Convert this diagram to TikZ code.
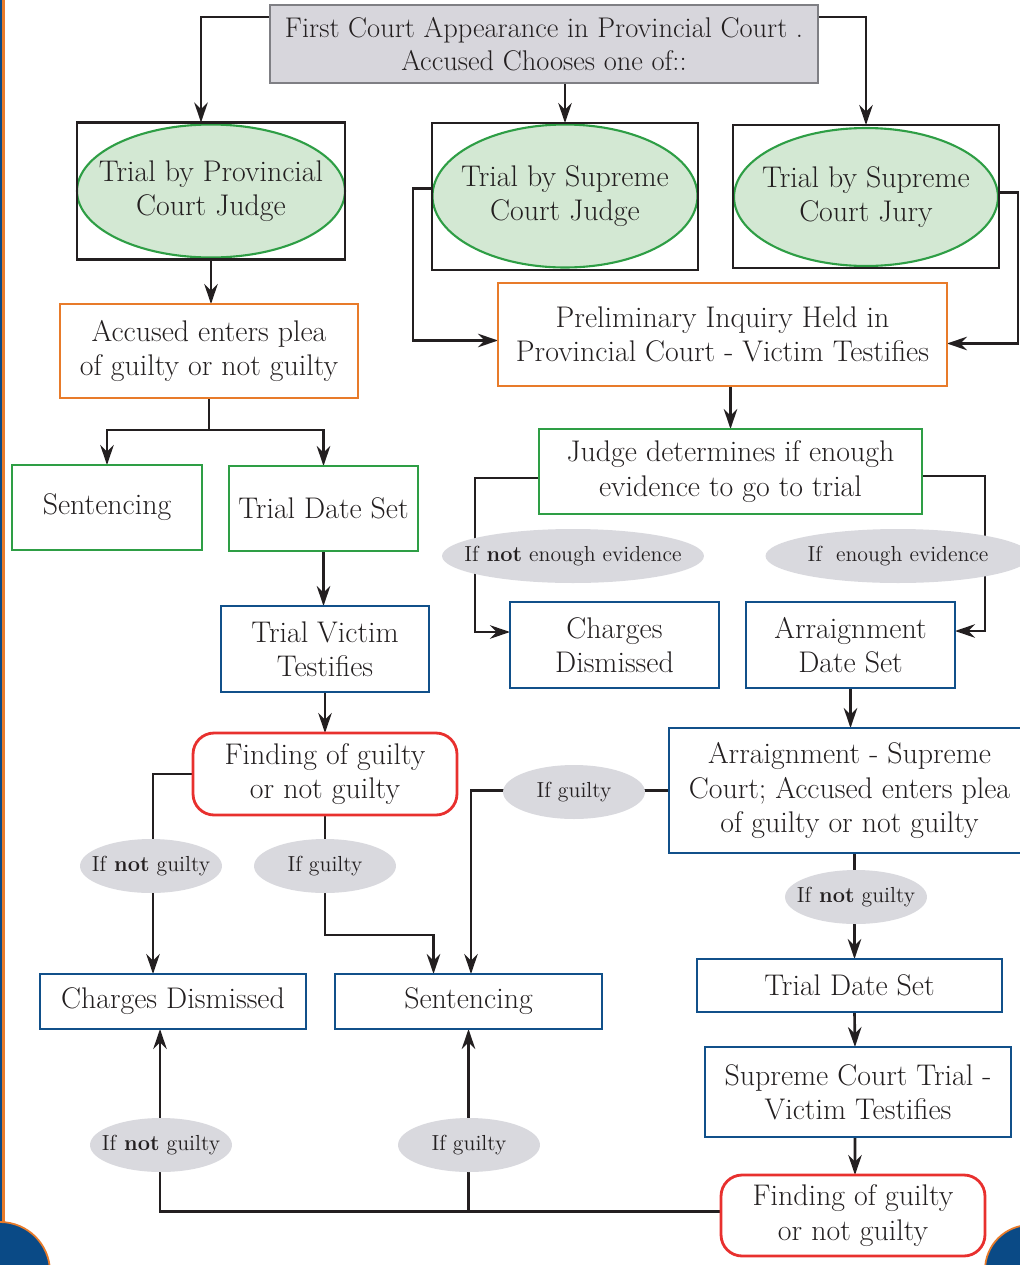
\documentclass[tikz,border=0pt]{standalone}
\usepackage{fontspec}
\usepackage{xcolor}
\definecolor{ink}{HTML}{231F20}
\definecolor{boxgray}{HTML}{D7D6DC}
\definecolor{framegray}{HTML}{7F7F84}
\definecolor{ellfill}{HTML}{D3E8D3}
\definecolor{boxgreen}{HTML}{2E9E45}
\definecolor{boxorange}{HTML}{E87B2A}
\definecolor{boxblue}{HTML}{11508A}
\definecolor{boxred}{HTML}{E8302E}
\definecolor{labgray}{HTML}{D9D9DE}
\definecolor{edgeblue}{HTML}{0A4A86}
\usepackage{tikz}
\usetikzlibrary{positioning}
\usetikzlibrary{arrows.meta,shapes}
\usetikzlibrary{backgrounds}
\begin{document}
\begin{tikzpicture}[x=0.02cm,y=-0.02cm,
    every node/.style={inner sep=0,outer sep=0,align=center,text=ink,font=\fontsize{17}{19.5}\selectfont},
    >={Stealth[length=0.4cm,width=0.27cm]},
    link/.style={->,line width=1.5pt,draw=ink},
    firstbox/.style={draw=framegray,fill=boxgray,line width=1.2pt,font=\fontsize{16.2}{18.5}\selectfont},
    framebox/.style={draw=ink,line width=1.3pt},
    choice/.style={ellipse,draw=boxgreen,fill=ellfill,line width=1.2pt,inner xsep=-0.8cm},
    orangebox/.style={draw=boxorange,line width=1.3pt},
    greenbox/.style={draw=boxgreen,line width=1.3pt},
    bluebox/.style={draw=boxblue,line width=1.6pt},
    redbox/.style={draw=boxred,rounded corners=12pt,line width=1.6pt},
    cond/.style={ellipse,fill=labgray,inner xsep=-0.6cm,font=\fontsize{12.4}{14}\selectfont,minimum width=2.84cm,minimum height=1.08cm}]
\useasboundingbox (0,0) rectangle (1020,1265);
\begin{scope}
    \clip (0,0) rectangle (1020,1265);
    \fill[edgeblue] (0,0) rectangle (2,1265);
    \fill[boxorange] (2,0) rectangle (4.5,1265);
    \filldraw[fill=edgeblue,draw=boxorange,line width=1pt] (0,1272) circle[radius=1cm];
    \filldraw[fill=edgeblue,draw=boxorange,line width=1pt] (1030,1270) circle[radius=0.9cm];
\end{scope}

\node[firstbox,minimum width=10.96cm,minimum height=1.56cm] (first) at (544,44) {First Court Appearance in Provincial Court .\\Accused Chooses one of::};

\node[choice,minimum width=5.36cm,minimum height=2.66cm] (pje) at (211,191) {Trial by Provincial\\Court Judge};
\node[framebox,minimum width=5.36cm,minimum height=2.74cm] (pj) at (211,191) {};
\node[choice,minimum width=5.3cm,minimum height=2.86cm] (sje) at (565,196) {Trial by Supreme\\Court Judge};
\node[framebox,minimum width=5.32cm,minimum height=2.94cm] (sj) at (565,196.5) {};
\node[choice,minimum width=5.28cm,minimum height=2.76cm] (jye) at (866,197) {Trial by Supreme\\Court Jury};
\node[framebox,minimum width=5.32cm,minimum height=2.86cm] (jy) at (866,196.5) {};

\node[orangebox,minimum width=5.96cm,minimum height=1.88cm] (plea) at (209,351) {Accused enters plea\\of guilty or not guilty};
\node[greenbox,minimum width=3.8cm,minimum height=1.7cm] (sen1) at (107,507.5) {Sentencing};
\node[greenbox,minimum width=3.78cm,minimum height=1.7cm] (tds1) at (323.5,508.5) {Trial Date Set};
\node[bluebox,minimum width=4.16cm,minimum height=1.72cm] (tvt) at (325,649) {Trial Victim\\Testifies};
\node[redbox,minimum width=5.28cm,minimum height=1.64cm] (fnd1) at (325,774) {Finding of guilty\\or not guilty};
\node[bluebox,minimum width=5.32cm,minimum height=1.1cm] (cd1) at (173,1001.5) {Charges Dismissed};
\node[bluebox,minimum width=5.34cm,minimum height=1.1cm] (sen2) at (468.5,1001.5) {Sentencing};

\node[orangebox,minimum width=8.98cm,minimum height=2.06cm] (pi) at (722.5,334.5) {Preliminary Inquiry Held in\\Provincial Court - Victim Testifies};
\node[greenbox,minimum width=7.66cm,minimum height=1.7cm] (jd) at (730.5,471.5) {Judge determines if enough\\evidence to go to trial};
\node[bluebox,minimum width=4.18cm,minimum height=1.72cm] (cd2) at (614.5,645) {Charges\\Dismissed};
\node[bluebox,minimum width=4.18cm,minimum height=1.72cm] (ads) at (850.5,645) {Arraignment\\Date Set};
\node[bluebox,minimum width=7.22cm,minimum height=2.5cm] (arr) at (849.5,790.5) {Arraignment - Supreme\\Court; Accused enters plea\\of guilty or not guilty};
\node[bluebox,minimum width=6.1cm,minimum height=1.06cm] (tds2) at (849.5,985.5) {Trial Date Set};
\node[bluebox,minimum width=6.12cm,minimum height=1.8cm] (sct) at (858,1092) {Supreme Court Trial -\\Victim Testifies};
\node[redbox,minimum width=5.28cm,minimum height=1.62cm] (fnd2) at (853,1215.5) {Finding of guilty\\or not guilty};

\node[cond] (c1) at (151,866) {If \textbf{not} guilty};
\node[cond] (c2) at (325,866) {If guilty};
\node[cond,minimum width=5.24cm] (c3) at (573,556) {If \textbf{not} enough evidence};
\node[cond,minimum width=5.3cm] (c4) at (898,556) {If\ \ enough evidence};
\node[cond] (c5) at (574,792) {If guilty};
\node[cond] (c6) at (856,897) {If \textbf{not} guilty};
\node[cond] (c7) at (161,1145) {If \textbf{not} guilty};
\node[cond] (c8) at (469,1145) {If guilty};

\begin{scope}[on background layer]
    \draw[link] ([yshift=-0.24cm]first.north west) -| ([xshift=-0.2cm]pj.north);
    \draw[link] (sj.north |- first.south) -- (sj.north);
    \draw[link] ([yshift=-0.24cm]first.north east) -| (jy.north);
    \draw[link] (pj.south) -- (pj.south |- plea.north);
    \draw[link] (plea.south) -- ++(0,32) -| (sen1.north);
    \draw[link] (plea.south) -- ++(0,32) -| (tds1.north);
    \draw[link] (tds1.south) -- (tds1.south |- tvt.north);
    \draw[link] (tvt) -- (fnd1);
    \draw[link] (fnd1.west) -| ([xshift=-0.4cm]cd1.north);
    \draw[link] (fnd1.south) -- ++(0,120) -| ([xshift=-0.7cm]sen2.north);
    \draw[link] ([yshift=0.16cm]sj.west) -- ++(-19,0) |- ([yshift=-0.12cm]pi.west);
    \draw[link] ([yshift=0.08cm]jy.east) -- ++(19,0) |- ([yshift=-0.18cm]pi.east);
    \draw[link] (jd.north |- pi.south) -- (jd.north);
    \draw[link] ([yshift=-0.13cm]jd.west) -- ++(-64,0) |- ([yshift=0.26cm]cd2.west);
    \draw[link] ([yshift=-0.09cm]jd.east) -- ++(63,0) |- ([yshift=0.28cm]ads.east);
    \draw[link] (ads.south) -- (ads.south |- arr.north);
    \draw[link] (arr.west) -| ([xshift=0.05cm]sen2.north);
    \draw[link] ([xshift=0.1cm]arr.south) -- ([xshift=0.1cm]tds2.north);
    \draw[link] ([xshift=0.1cm]tds2.south) -- ([xshift=-0.06cm]sct.north);
    \draw[link] ([xshift=-0.06cm]sct.south) -- ([xshift=0.04cm]fnd2.north);
    \draw[link] ([yshift=0.08cm]fnd2.west) -| ([xshift=-0.26cm]cd1.south);
    \draw[link] ([yshift=0.08cm]fnd2.west) -| (sen2.south);
\end{scope}
\end{tikzpicture}
\end{document}
